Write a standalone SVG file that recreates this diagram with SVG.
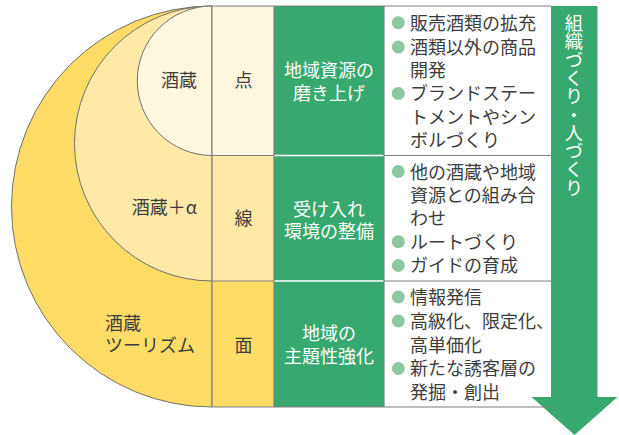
<svg xmlns="http://www.w3.org/2000/svg" width="619" height="435" viewBox="0 0 619 435">
<style>
text{font-family:"Noto Sans CJK JP","Noto Sans",sans-serif;font-size:18px}
.dk{fill:#3d3d3d}
.wt{fill:#ffffff}
.c{text-anchor:middle}
.e{text-anchor:end}
.arc{stroke:#707070;stroke-width:1}
.ln{stroke:#808080;stroke-width:1.2;fill:none}
.wl{stroke:#ffffff;stroke-width:1.5}
.dot{fill:#8dc8a2}
</style>
<rect width="619" height="435" fill="#ffffff"/>
<g id="bands">
<path class="arc" d="M212,6 A200.5,200.5 0 0 0 212,407 Z" fill="#ffdc66"/>
<path class="arc" d="M212,6 A137.5,137.5 0 0 0 212,281 Z" fill="#ffe9a6"/>
<path class="arc" d="M212,6 A74.75,74.75 0 0 0 212,155.5 Z" fill="#fff7e0"/>
</g>
<g id="scale-col">
<rect x="212" y="6" width="62" height="149.5" fill="#fff7e0"/>
<rect x="212" y="155.5" width="62" height="125.5" fill="#ffe9a6"/>
<rect x="212" y="281" width="62" height="126" fill="#ffdc66"/>
</g>
<g id="green-col">
<rect x="274" y="6" width="110" height="401" fill="#37a870"/>
<line class="wl" x1="274" y1="155.5" x2="384" y2="155.5"/>
<line class="wl" x1="274" y1="281" x2="384" y2="281"/>
</g>
<g id="text-col">
<rect x="384" y="6" width="167" height="401" fill="#ffffff"/>
</g>
<g id="arrow">
<polygon points="551,6 597.5,6 597.5,397 617.5,397 574.5,435 531.5,397 551,397" fill="#37a870"/>
<text class="wt" x="574" y="14" style="writing-mode:vertical-rl;font-size:18.3px">組織づくり・人づくり</text>
</g>
<g id="connectors">
<line class="ln" x1="212" y1="6" x2="551" y2="6"/>
<line class="ln" x1="212" y1="407" x2="551" y2="407"/>
<line class="ln" x1="212" y1="6" x2="212" y2="407"/>
<line class="ln" x1="274" y1="6" x2="274" y2="407"/>
<line class="ln" x1="384" y1="6" x2="384" y2="407"/>
<line class="ln" x1="212" y1="155.5" x2="274" y2="155.5"/>
<line class="ln" x1="212" y1="281" x2="274" y2="281"/>
<line class="ln" x1="384" y1="155.5" x2="551" y2="155.5"/>
<line class="ln" x1="384" y1="281" x2="551" y2="281"/>
</g>
<g id="labels-left">
<text class="dk e" x="197" y="87">酒蔵</text>
<text class="dk e" x="197" y="214">酒蔵＋α</text>
<text class="dk"><tspan x="105" y="330">酒蔵</tspan><tspan x="105" y="352">ツーリズム</tspan></text>
</g>
<g id="labels-scale">
<text class="dk c" x="243.5" y="87">点</text>
<text class="dk c" x="243.5" y="225">線</text>
<text class="dk c" x="243.5" y="352">面</text>
</g>
<g id="labels-green">
<text class="wt c"><tspan x="329" y="77">地域資源の</tspan><tspan x="329" y="100">磨き上げ</tspan></text>
<text class="wt c"><tspan x="329" y="216">受け入れ</tspan><tspan x="329" y="238">環境の整備</tspan></text>
<text class="wt c"><tspan x="329" y="340">地域の</tspan><tspan x="329" y="363">主題性強化</tspan></text>
</g>
<g id="row1-items">
<circle class="dot" cx="398.3" cy="22.7" r="6.5"/>
<circle class="dot" cx="398.3" cy="47" r="6.5"/>
<circle class="dot" cx="398.3" cy="93.4" r="6.5"/>
<text class="dk"><tspan x="410" y="29.5">販売酒類の拡充</tspan><tspan x="410" y="53.8">酒類以外の商品</tspan><tspan x="410" y="77">開発</tspan><tspan x="410" y="100.2">ブランドステー</tspan><tspan x="410" y="123.6">トメントやシン</tspan><tspan x="410" y="147">ボルづくり</tspan></text>
</g>
<g id="row2-items">
<circle class="dot" cx="398.3" cy="171.5" r="6.5"/>
<circle class="dot" cx="398.3" cy="241.7" r="6.5"/>
<circle class="dot" cx="398.3" cy="265.5" r="6.5"/>
<text class="dk"><tspan x="410" y="178.5">他の酒蔵や地域</tspan><tspan x="410" y="201.9">資源との組み合</tspan><tspan x="410" y="225.3">わせ</tspan><tspan x="410" y="248.7">ルートづくり</tspan><tspan x="410" y="272.3">ガイドの育成</tspan></text>
</g>
<g id="row3-items">
<circle class="dot" cx="398.3" cy="297" r="6.5"/>
<circle class="dot" cx="398.3" cy="321" r="6.5"/>
<circle class="dot" cx="398.3" cy="368.5" r="6.5"/>
<text class="dk"><tspan x="410" y="303.8">情報発信</tspan><tspan x="410" y="327.8">高級化、限定化、</tspan><tspan x="410" y="351.5">高単価化</tspan><tspan x="410" y="375.3">新たな誘客層の</tspan><tspan x="410" y="398.8">発掘・創出</tspan></text>
</g>
</svg>
